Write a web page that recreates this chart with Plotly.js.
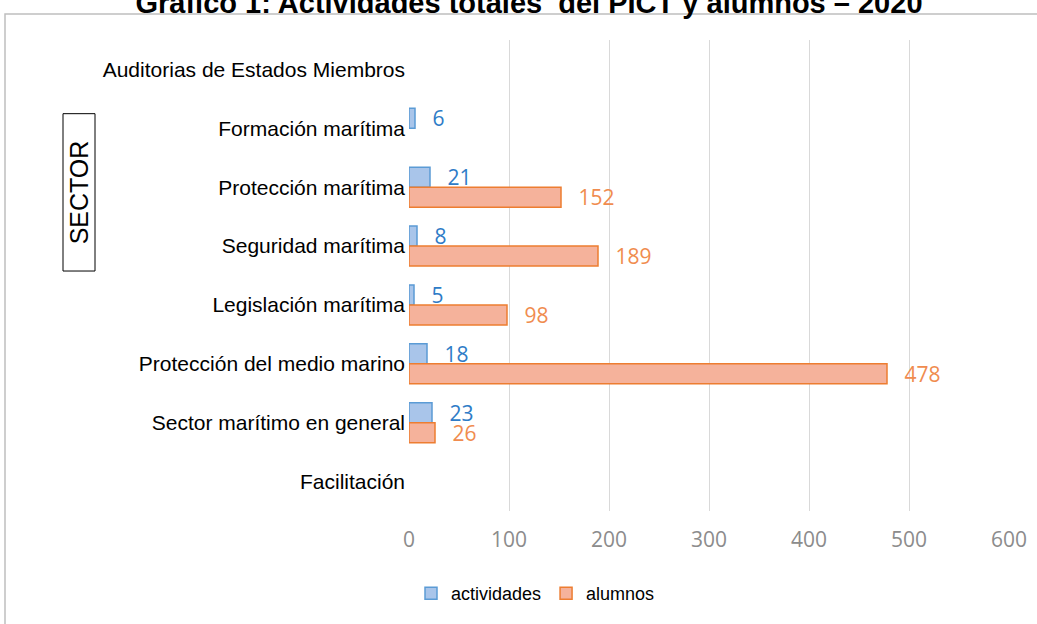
<!DOCTYPE html>
<html>
<head>
<meta charset="utf-8">
<script src="https://cdn.plot.ly/plotly-3.0.1.min.js"></script>
<style>html,body{margin:0;padding:0;background:#fff;}#chart{width:1037px;height:624px;}</style>
</head>
<body>
<div id="chart"></div>
<script>
var categories = ["Auditorias de Estados Miembros", "Formación marítima", "Protección marítima", "Seguridad marítima", "Legislación marítima", "Protección del medio marino", "Sector marítimo en general", "Facilitación"];
var actividades = [null, 6, 21, 8, 5, 18, 23, null];
var alumnos = [null, null, 152, 189, 98, 478, 26, null];
var seriesNames = ["actividades", "alumnos"];
var xTicks = [0, 100, 200, 300, 400, 500, 600];

var W = 1037, H = 624;
var L = 409, R = 28, T = 40, B = 111;
var pw = W - L - R, ph = H - T - B;
function px(x) { return (x - L) / pw; }
function py(y) { return (H - B - y) / ph; }

var nb = "\u00a0\u00a0\u2009";
var traces = [
  {
    type: "bar", orientation: "h", name: seriesNames[0],
    y: categories, x: actividades,
    marker: {color: "#a9c5ea", line: {color: "#5b9bd5", width: 1.5}},
    texttemplate: nb + "%{x}", textposition: "outside", cliponaxis: false, constraintext: "none",
    textfont: {family: "Open Sans, sans-serif", size: 21, color: "#2e7cc7"},
    hoverinfo: "x+y"
  },
  {
    type: "bar", orientation: "h", name: seriesNames[1],
    y: categories, x: alumnos,
    marker: {color: "#f5b29b", line: {color: "#ed7d31", width: 1.5}},
    texttemplate: nb + "%{x}", textposition: "outside", cliponaxis: false, constraintext: "none",
    textfont: {family: "Open Sans, sans-serif", size: 21, color: "#f08c4f"},
    hoverinfo: "x+y"
  }
];

var layout = {
  width: W, height: H,
  margin: {l: L, r: R, t: T, b: B, pad: 0},
  paper_bgcolor: "#ffffff", plot_bgcolor: "#ffffff",
  barmode: "group", bargap: 0.32, bargroupgap: 0,
  showlegend: true,
  title: {
    text: "<b>Gráfico 1: Actividades totales  del PICT y alumnos – 2020</b>",
    font: {family: "Liberation Sans, Arial, sans-serif", size: 29, color: "#000"},
    xref: "paper", x: px(529), xanchor: "center",
    yref: "container", y: 1 - 3 / H, yanchor: "middle"
  },
  xaxis: {
    range: [0, 600], tickvals: xTicks, ticktext: xTicks.map(String),
    showgrid: true, gridcolor: "#d9d9d9", gridwidth: 1,
    zeroline: false, showline: false, ticks: "",
    tickfont: {family: "Open Sans, sans-serif", size: 21, color: "#8c8c8c"},
    ticklabelstandoff: 14, fixedrange: true
  },
  yaxis: {
    type: "category", categoryorder: "array", categoryarray: categories,
    autorange: "reversed",
    showgrid: false, zeroline: false, showline: false, ticks: "",
    tickfont: {family: "Liberation Sans, Arial, sans-serif", size: 21, color: "#000"},
    ticklabelstandoff: 3, fixedrange: true
  },
  legend: {
    orientation: "h", x: px(411), xanchor: "left", y: py(596), yanchor: "middle",
    font: {family: "Liberation Sans, Arial, sans-serif", size: 18, color: "#000"},
    traceorder: "normal", itemwidth: 30
  },
  shapes: [
    {type: "rect", xref: "paper", yref: "paper", x0: px(5), x1: px(1080), y0: py(14), y1: py(680),
     line: {color: "#bfbfbf", width: 1.5}, fillcolor: "rgba(0,0,0,0)", layer: "below"},
    {type: "rect", xref: "paper", yref: "paper", x0: px(63), x1: px(95), y0: py(114), y1: py(272),
     line: {color: "#000", width: 1}, fillcolor: "rgba(0,0,0,0)"}
  ],
  annotations: [
    {text: "SECTOR", xref: "paper", yref: "paper", x: px(79), y: py(193), xanchor: "center", yanchor: "middle",
     textangle: -90, showarrow: false,
     font: {family: "Liberation Sans, Arial, sans-serif", size: 25, color: "#000"}}
  ]
};

Plotly.newPlot("chart", traces, layout, {displayModeBar: false, staticPlot: true});
</script>
</body>
</html>
